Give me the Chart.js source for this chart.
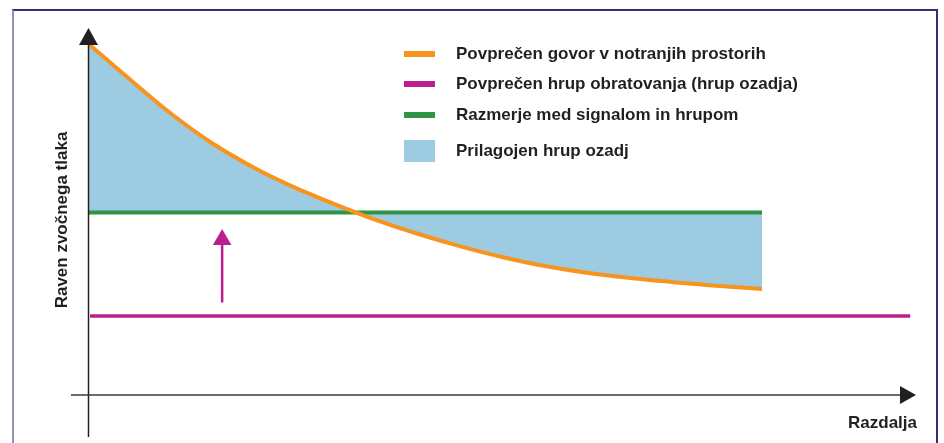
<!DOCTYPE html>
<html>
<head>
<meta charset="utf-8">
<script src="https://cdn.jsdelivr.net/npm/chart.js@4/dist/chart.umd.min.js"></script>
<style>
  body { margin: 0; background: #fff; }
  #wrap { position: relative; width: 944px; height: 443px; overflow: hidden; }
  #chart { position: absolute; left: 0; top: 0; }
  #frame {
    position: absolute; left: 12px; top: 9px; width: 922px; height: 460px;
    border-top: 2px solid #2f3270; border-right: 2px solid #2f3270;
    border-left: 2px solid #9093b8;
  }
  #legend {
    position: absolute; left: 404px; top: 0;
    font-family: "Liberation Sans", Arial, sans-serif; font-weight: bold;
    font-size: 17px; color: #231f20;
  }
  .item { position: absolute; left: 0; display: flex; align-items: center; height: 24px; white-space: nowrap; }
  .item span.sw { display: inline-block; width: 31px; margin-right: 21px; }
</style>
</head>
<body>
<div id="wrap">
  <canvas id="chart" width="944" height="443"></canvas>
  <div id="frame"></div>
  <div id="legend"></div>
</div>
<script>
// Distance (x) and sound pressure level (y)
const distance = [0, 5, 10, 15, 20, 25, 30, 35, 40, 45, 50, 55, 60, 65, 70, 75, 81.4];
const speechLevel = [95.8, 86.1, 76.7, 68.6, 62.0, 56.5, 51.8, 47.5, 43.8, 40.5, 37.6, 35.2, 33.4, 32.0, 30.9, 29.9, 28.9];
const noiseLevel = 21.5;
const noiseRange = [0.25, 99.3];
const snrLevel = 49.7;
const snrRange = [0, 81.4];
const arrowX = 16.2;
const arrowY = [25.2, 42.3];

const labels = [
  "Povprečen govor v notranjih prostorih",
  "Povprečen hrup obratovanja (hrup ozadja)",
  "Razmerje med signalom in hrupom",
  "Prilagojen hrup ozadj"
];
const xTitle = "Razdalja";
const yTitle = "Raven zvočnega tlaka";

const ORANGE = "#f7941d";
const MAGENTA = "#bb1e8e";
const GREEN = "#2f9444";
const BLUE = "#9ccbe2";

// axes with arrow heads and titles
const axesPlugin = {
  id: "arrowAxes",
  afterDatasetsDraw(chart) {
    const ctx = chart.ctx;
    const a = chart.chartArea;
    ctx.save();
    // y axis
    ctx.strokeStyle = "#231f20";
    ctx.fillStyle = "#231f20";
    ctx.lineWidth = 1.5;
    ctx.beginPath();
    ctx.moveTo(a.left + 0.5, a.top + 16);
    ctx.lineTo(a.left + 0.5, a.bottom + 42);
    ctx.stroke();
    ctx.beginPath();
    ctx.moveTo(a.left + 0.5, a.top);
    ctx.lineTo(a.left + 10, a.top + 17);
    ctx.lineTo(a.left - 9, a.top + 17);
    ctx.closePath();
    ctx.fill();
    // x axis
    ctx.strokeStyle = "#3a3a3a";
    ctx.beginPath();
    ctx.moveTo(a.left - 17, a.bottom);
    ctx.lineTo(a.right - 15, a.bottom);
    ctx.stroke();
    ctx.fillStyle = "#231f20";
    ctx.beginPath();
    ctx.moveTo(a.right, a.bottom);
    ctx.lineTo(a.right - 16, a.bottom - 9);
    ctx.lineTo(a.right - 16, a.bottom + 9);
    ctx.closePath();
    ctx.fill();
    // titles
    ctx.font = "bold 17px 'Liberation Sans', Arial, sans-serif";
    ctx.fillStyle = "#231f20";
    ctx.textAlign = "right";
    ctx.textBaseline = "alphabetic";
    ctx.fillText(xTitle, a.right + 1, a.bottom + 33);
    ctx.translate(67, 220);
    ctx.rotate(-Math.PI / 2);
    ctx.textAlign = "center";
    ctx.fillText(yTitle, 0, 0);
    ctx.restore();
  }
};

const chart = new Chart(document.getElementById("chart"), {
  type: "line",
  data: {
    datasets: [
      {
        label: labels[0],
        data: distance.map((d, i) => ({ x: d, y: speechLevel[i] })),
        borderColor: ORANGE,
        backgroundColor: BLUE,
        borderWidth: 4,
        pointRadius: 0,
        cubicInterpolationMode: "monotone",
        fill: { target: 2 }
      },
      {
        label: labels[1],
        data: noiseRange.map(d => ({ x: d, y: noiseLevel })),
        borderColor: MAGENTA,
        borderWidth: 3.5,
        pointRadius: 0,
        fill: false
      },
      {
        label: labels[2],
        data: snrRange.map(d => ({ x: d, y: snrLevel })),
        borderColor: GREEN,
        borderWidth: 4,
        pointRadius: 0,
        fill: false
      },
      {
        label: "arrow",
        data: arrowY.map(v => ({ x: arrowX, y: v })),
        borderColor: MAGENTA,
        borderWidth: 2.5,
        pointRadius: [0, 10.7],
        pointStyle: "triangle",
        pointBackgroundColor: MAGENTA,
        pointBorderWidth: 0,
        fill: false
      }
    ]
  },
  options: {
    responsive: false,
    animation: false,
    devicePixelRatio: 1,
    layout: { padding: { left: 88, right: 28, top: 28, bottom: 48 } },
    scales: {
      x: { type: "linear", min: 0, max: 100, display: false },
      y: { type: "linear", min: 0, max: 100, display: false }
    },
    plugins: {
      legend: { display: false },
      tooltip: { enabled: false },
      filler: { drawTime: "beforeDatasetsDraw" }
    }
  },
  plugins: [axesPlugin]
});

// html legend built from the datasets
const legendEl = document.getElementById("legend");
const rowCenters = [54, 84, 115, 151];
const legendItems = [
  { text: labels[0], color: ORANGE, h: 6 },
  { text: labels[1], color: MAGENTA, h: 6 },
  { text: labels[2], color: GREEN, h: 6 },
  { text: labels[3], color: BLUE, h: 22 }
];
legendItems.forEach((it, i) => {
  const row = document.createElement("div");
  row.className = "item";
  row.style.top = (rowCenters[i] - 12) + "px";
  row.innerHTML = '<span class="sw" style="height:' + it.h + 'px;background:' + it.color + '"></span>' + it.text;
  legendEl.appendChild(row);
});
</script>
</body>
</html>
